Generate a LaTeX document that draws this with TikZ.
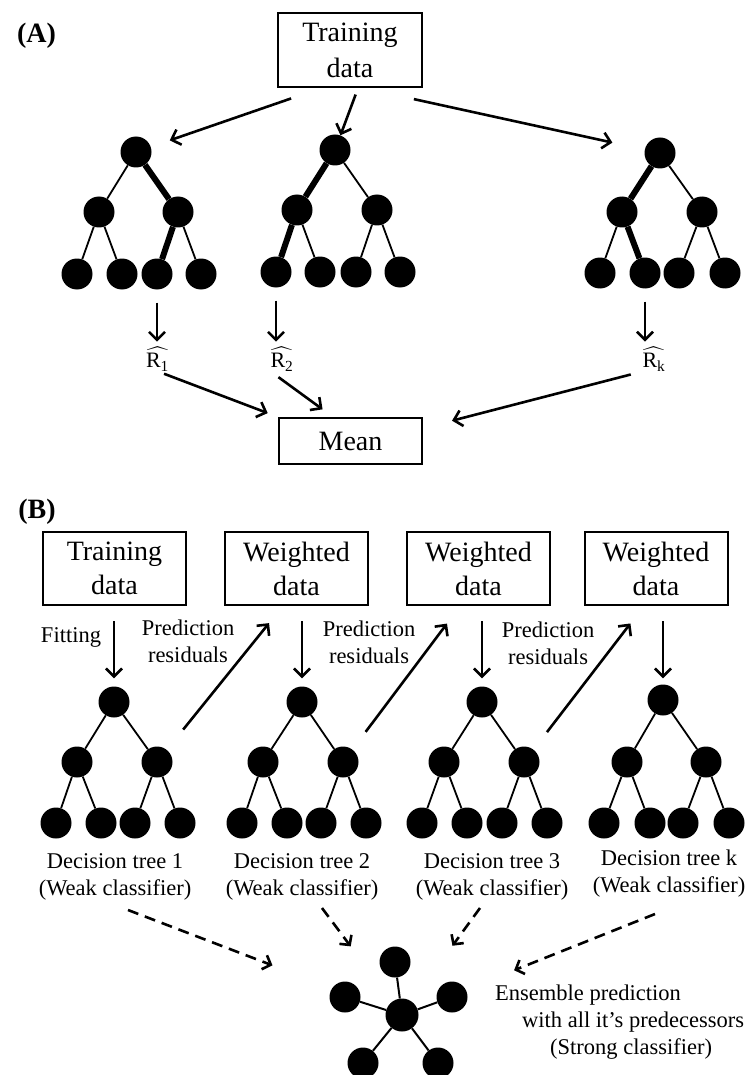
\documentclass[tikz,border=0pt]{standalone}
\usepackage{amsmath}
\usepackage{fontspec}
\setmainfont{Liberation Serif}
\usepackage{tikz}
\usetikzlibrary{arrows.meta}

\begin{document}
\begin{tikzpicture}[x=1pt, y=-1pt,
    box/.style={draw, line width=2pt, minimum width=143pt, minimum height=73pt,
        inner sep=0pt, align=center, font=\fontsize{28}{34}\selectfont},
    treenode/.style={circle, fill=black, minimum size=31pt, inner sep=0pt},
    txt/.style={inner sep=0pt, align=center, font=\fontsize{22.5}{27}\selectfont},
    rlab/.style={inner sep=0pt, font=\fontsize{22}{26}\selectfont},
    edge/.style={line width=1.8pt},
    path/.style={line width=6pt},
    arr/.style={line width=2.6pt, -{Straight Barb[length=8pt, width=16pt]}},
    dasharr/.style={line width=2.6pt, dash pattern=on 11pt off 7pt, -{Straight Barb[length=7pt, width=15pt]}}]
    \useasboundingbox (0,0) rectangle (745,1075);

    % (A) random forest
    \node[inner sep=0pt, anchor=base, font=\bfseries\fontsize{28}{34}\selectfont] (labA) at (36.5,43) {(A)};
    \node[box, minimum width=144pt, minimum height=74pt, font=\fontsize{28}{36}\selectfont] (trainA) at (350,50) {Training\\data};

    \node[treenode] (a1root) at (136,152) {};
    \node[treenode] (a1l) at (99,212) {};
    \node[treenode] (a1r) at (178,212) {};
    \node[treenode] (a1l1) at (77,274) {};
    \node[treenode] (a1l2) at (122,274) {};
    \node[treenode] (a1l3) at (157,274) {};
    \node[treenode] (a1l4) at (201,274) {};
    \draw[edge] (a1root) -- (a1l) (a1l) -- (a1l1) (a1l) -- (a1l2) (a1r) -- (a1l4);
    \draw[path] (a1root) -- (a1r) -- (a1l3);

    \node[treenode] (a2root) at (335,150) {};
    \node[treenode] (a2l) at (297,210) {};
    \node[treenode] (a2r) at (377,210) {};
    \node[treenode] (a2l1) at (276,272) {};
    \node[treenode] (a2l2) at (320,272) {};
    \node[treenode] (a2l3) at (356,272) {};
    \node[treenode] (a2l4) at (400,272) {};
    \draw[edge] (a2root) -- (a2r) (a2l) -- (a2l2) (a2r) -- (a2l3) (a2r) -- (a2l4);
    \draw[path] (a2root) -- (a2l) -- (a2l1);

    \node[treenode] (a3root) at (660,153) {};
    \node[treenode] (a3l) at (622,212) {};
    \node[treenode] (a3r) at (702,212) {};
    \node[treenode] (a3l1) at (600,273) {};
    \node[treenode] (a3l2) at (645,273) {};
    \node[treenode] (a3l3) at (679,273) {};
    \node[treenode] (a3l4) at (725,273) {};
    \draw[edge] (a3root) -- (a3r) (a3l) -- (a3l1) (a3r) -- (a3l3) (a3r) -- (a3l4);
    \draw[path] (a3root) -- (a3l) -- (a3l2);

    \draw[arr, shorten <=32pt, shorten >=20pt] (trainA.233) -- (a1root);
    \draw[arr, shorten <=7pt] (trainA.282) -- (a2root);
    \draw[arr, shorten <=52pt, shorten >=33pt] (trainA.289) -- (a3root);

    \node[rlab] (r1) at (157.5,359) {$\widehat{\mathrm{R_1}}$};
    \node[rlab] (r2) at (282,359) {$\widehat{\mathrm{R_2}}$};
    \node[rlab] (rk) at (654,359) {$\widehat{\mathrm{R_k}}$};
    \draw[arr, shorten <=13pt, shorten >=5pt] (a1l3) -- (a1l3 |- r1.north);
    \draw[arr, shorten <=13pt, shorten >=5pt] (a2l1) -- (a2l1 |- r2.north);
    \draw[arr, shorten <=13pt, shorten >=5pt] (a3l2) -- (a3l2 |- rk.north);

    \node[box, minimum height=46pt] (mean) at (350.5,441) {Mean};
    \draw[arr, shorten <=7pt, shorten >=11pt] (r1.south) -- (mean.north west);
    \draw[arr, shorten <=10pt, shorten >=13pt] (r2.south west) -- (mean.126);
    \draw[arr, shorten <=12pt, shorten >=30pt] (rk.south west) -- (mean.10);

    % (B) boosting
    \node[inner sep=0pt, anchor=base, font=\bfseries\fontsize{28}{34}\selectfont] (labB) at (37,518) {(B)};
    \node[box] (trainB) at (114.5,568.5) {Training\\data};
    \node[box] (w2) at (296.5,568.5) {Weighted\\data};
    \node[box] (w3) at (478.5,568.5) {Weighted\\data};
    \node[box] (w4) at (656,568.5) {Weighted\\data};

    \node[txt, anchor=base] (fit) at (71,642) {Fitting};
    \node[txt] (res1) at (188,641) {Prediction\\residuals};
    \node[txt] (res2) at (369,642) {Prediction\\residuals};
    \node[txt] (res3) at (548,643) {Prediction\\residuals};

    \node[treenode] (b1root) at (114,702) {};
    \node[treenode] (b1l) at (77,762) {};
    \node[treenode] (b1r) at (157,762) {};
    \node[treenode] (b1l1) at (56,823) {};
    \node[treenode] (b1l2) at (101,823) {};
    \node[treenode] (b1l3) at (135,823) {};
    \node[treenode] (b1l4) at (180,823) {};
    \draw[edge] (b1root) -- (b1l) (b1root) -- (b1r) (b1l) -- (b1l1) (b1l) -- (b1l2) (b1r) -- (b1l3) (b1r) -- (b1l4);

    \node[treenode] (b2root) at (302,702) {};
    \node[treenode] (b2l) at (263,762) {};
    \node[treenode] (b2r) at (343,762) {};
    \node[treenode] (b2l1) at (242,823) {};
    \node[treenode] (b2l2) at (287,823) {};
    \node[treenode] (b2l3) at (321,823) {};
    \node[treenode] (b2l4) at (366,823) {};
    \draw[edge] (b2root) -- (b2l) (b2root) -- (b2r) (b2l) -- (b2l1) (b2l) -- (b2l2) (b2r) -- (b2l3) (b2r) -- (b2l4);

    \node[treenode] (b3root) at (482,702) {};
    \node[treenode] (b3l) at (444,762) {};
    \node[treenode] (b3r) at (524,762) {};
    \node[treenode] (b3l1) at (422,823) {};
    \node[treenode] (b3l2) at (467,823) {};
    \node[treenode] (b3l3) at (502,823) {};
    \node[treenode] (b3l4) at (547,823) {};
    \draw[edge] (b3root) -- (b3l) (b3root) -- (b3r) (b3l) -- (b3l1) (b3l) -- (b3l2) (b3r) -- (b3l3) (b3r) -- (b3l4);

    \node[treenode] (b4root) at (663,700) {};
    \node[treenode] (b4l) at (627,762) {};
    \node[treenode] (b4r) at (706,762) {};
    \node[treenode] (b4l1) at (604,823) {};
    \node[treenode] (b4l2) at (650,823) {};
    \node[treenode] (b4l3) at (683,823) {};
    \node[treenode] (b4l4) at (729,823) {};
    \draw[edge] (b4root) -- (b4l) (b4root) -- (b4r) (b4l) -- (b4l1) (b4l) -- (b4l2) (b4r) -- (b4l3) (b4r) -- (b4l4);

    \draw[arr, shorten <=15pt, shorten >=8pt] (trainB.south -| b1root) -- (b1root);
    \draw[arr, shorten <=15pt, shorten >=8pt] (w2.south -| b2root) -- (b2root);
    \draw[arr, shorten <=15pt, shorten >=8pt] (w3.south -| b3root) -- (b3root);
    \draw[arr, shorten <=15pt, shorten >=6pt] (w4.south -| b4root) -- (b4root);

    \draw[arr, shorten <=26pt, shorten >=22pt] (b1r) -- (w2.250);
    \draw[arr, shorten <=22pt, shorten >=22pt] (b2r) -- (w3.244);
    \draw[arr, shorten <=22pt, shorten >=22pt] (b3r) -- (w4.252);

    \node[txt] (dt1) at (115,877) {Decision tree 1\\(Weak classifier)};
    \node[txt] (dt2) at (302,877) {Decision tree 2\\(Weak classifier)};
    \node[txt] (dt3) at (492,877) {Decision tree 3\\(Weak classifier)};
    \node[txt] (dt4) at (669,874) {Decision tree k\\(Weak classifier)};

    % ensemble
    \node[treenode, minimum size=33pt] (star) at (402,1015) {};
    \node[treenode] (s1) at (395,962) {};
    \node[treenode] (s2) at (345,997) {};
    \node[treenode] (s3) at (452,997) {};
    \node[treenode] (s4) at (363,1063) {};
    \node[treenode] (s5) at (438,1063) {};
    \draw[edge, line width=2pt] (star) -- (s1) (star) -- (s2) (star) -- (s3) (star) -- (s4) (star) -- (s5);

    \coordinate (d1) at (128,910);
    \coordinate (d2) at (322,908);
    \coordinate (d3) at (480,908);
    \coordinate (d4) at (655,914);
    \draw[dasharr, shorten >=122pt] (d1) -- (star);
    \draw[dasharr, shorten >=69pt] (d2) -- (star);
    \draw[dasharr, shorten >=69pt] (d3) -- (star);
    \draw[dasharr, shorten >=104pt] (d4) -- (star);

    \node[txt, align=left, anchor=north west] (ens) at (495,984.5) {Ensemble prediction\\\hspace*{27pt}with all it's predecessors\\\hspace*{55pt}(Strong classifier)};
\end{tikzpicture}
\end{document}
